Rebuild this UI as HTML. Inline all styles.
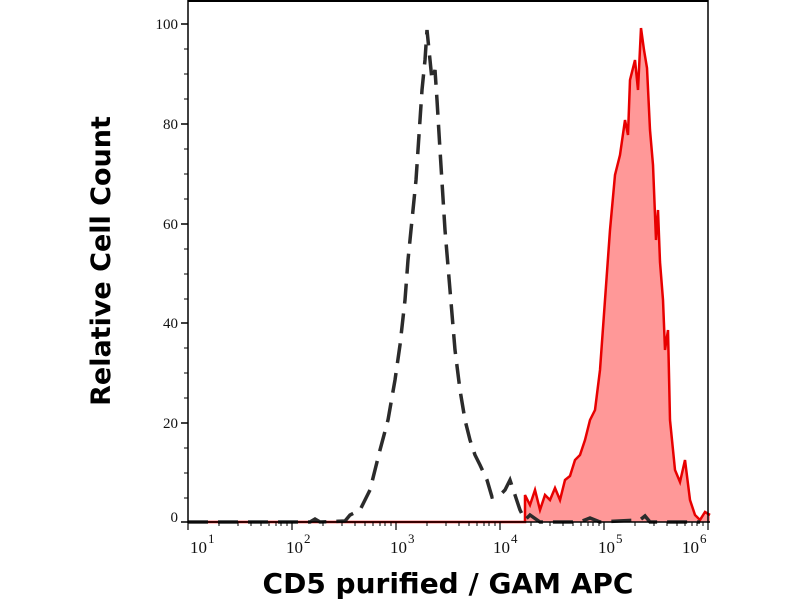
<!DOCTYPE html>
<html><head><meta charset="utf-8"><style>
body{margin:0;background:#fff;width:800px;height:600px;overflow:hidden}
svg text{font-family:"Liberation Serif",serif;fill:#111}
</style></head><body>
<svg width="800" height="600" viewBox="0 0 800 600">
<g font-size="15" text-anchor="end">
<text x="178" y="29">100</text><text x="178" y="129">80</text><text x="178" y="229">60</text>
<text x="178" y="328">40</text><text x="178" y="428">20</text><text x="178" y="522">0</text>
</g>
<g stroke="#000" stroke-width="1.5">
<line x1="181" y1="24" x2="188" y2="24"/><line x1="181" y1="124" x2="188" y2="124"/><line x1="181" y1="224" x2="188" y2="224"/>
<line x1="181" y1="323" x2="188" y2="323"/><line x1="181" y1="423" x2="188" y2="423"/><line x1="181" y1="522" x2="188" y2="522"/>
</g>
<g stroke="#000" stroke-width="1">
<line x1="188" y1="49" x2="184" y2="49"/><line x1="188" y1="74" x2="184" y2="74"/><line x1="188" y1="99" x2="184" y2="99"/>
<line x1="188" y1="149" x2="184" y2="149"/><line x1="188" y1="174" x2="184" y2="174"/><line x1="188" y1="199" x2="184" y2="199"/>
<line x1="188" y1="249" x2="184" y2="249"/><line x1="188" y1="274" x2="184" y2="274"/><line x1="188" y1="299" x2="184" y2="299"/>
<line x1="188" y1="348" x2="184" y2="348"/><line x1="188" y1="373" x2="184" y2="373"/><line x1="188" y1="398" x2="184" y2="398"/>
<line x1="188" y1="448" x2="184" y2="448"/><line x1="188" y1="473" x2="184" y2="473"/><line x1="188" y1="498" x2="184" y2="498"/>
</g>
<path d="M188,522 L525,522 525,495 530,505 535,490 540,510 545,495 550,500 555,488 560,500 565,480 570,476 575,460 580,455 585,440 590,420 595,410 600,370 605,300 610,230 615,175 620,155 625,120 628,135 630,80 635,60 638,90 641,28 644,50 647,68 650,130 653,165 656,240 658,210 660,262 663,300 665,350 668,330 670,420 675,470 680,482 685,460 690,500 695,515 700,520 705,512 710,515 710,522 Z" fill="#ff9898"/>
<polyline fill="none" stroke="#e80000" stroke-width="2.5" points="188,522 525,522 525,495 530,505 535,490 540,510 545,495 550,500 555,488 560,500 565,480 570,476 575,460 580,455 585,440 590,420 595,410 600,370 605,300 610,230 615,175 620,155 625,120 628,135 630,80 635,60 638,90 641,28 644,50 647,68 650,130 653,165 656,240 658,210 660,262 663,300 665,350 668,330 670,420 675,470 680,482 685,460 690,500 695,515 700,520 705,512 710,515"/>
<polyline fill="none" stroke="#2b2b2b" stroke-width="3.5" stroke-dasharray="20,10" points="188,522 310,522 315,519 320,522 345,521 350,515 360,510 365,500 370,490 375,470 380,450 388,420 395,380 400,345 405,300 408,260 412,220 416,180 420,120 422,90 425,60 427,30 430,60 432,80 435,70 437,100 440,150 445,230 450,290 455,350 460,390 465,420 470,440 475,455 480,465 487,480 492,497 500,495 505,490 510,480 515,495 520,510 525,520 530,515 540,522 580,522 590,518 600,522 640,520 645,516 650,522 700,522"/>
<g stroke="#000" fill="none">
<line x1="188" y1="1" x2="708" y2="1" stroke-width="2"/>
<line x1="708" y1="0" x2="708" y2="523" stroke-width="1.5"/>
<line x1="188" y1="0" x2="188" y2="523" stroke-width="1.5"/>
<line x1="188" y1="522" x2="710" y2="522" stroke-width="1.5"/>
</g>
<g stroke="#000" stroke-width="1.2">
<line x1="188" y1="522" x2="188" y2="530"/><line x1="292" y1="522" x2="292" y2="530"/><line x1="396" y1="522" x2="396" y2="530"/>
<line x1="500" y1="522" x2="500" y2="530"/><line x1="604" y1="522" x2="604" y2="530"/><line x1="708" y1="522" x2="708" y2="530"/>
</g>
<g stroke="#000" stroke-width="1">
<path d="M219,522v4M238,522v4M251,522v4M261,522v4M269,522v4M276,522v4M281,522v4M287,522v4
M323,522v4M342,522v4M355,522v4M365,522v4M373,522v4M380,522v4M385,522v4M391,522v4
M427,522v4M446,522v4M459,522v4M469,522v4M477,522v4M484,522v4M489,522v4M495,522v4
M531,522v4M550,522v4M563,522v4M573,522v4M581,522v4M588,522v4M593,522v4M599,522v4
M635,522v4M654,522v4M667,522v4M677,522v4M685,522v4M692,522v4M697,522v4M703,522v4"/>
</g>
<g font-size="17">
<text x="190" y="553">10</text><text x="208" y="543" font-size="13">1</text>
<text x="286" y="553">10</text><text x="304" y="543" font-size="13">2</text>
<text x="390" y="553">10</text><text x="408" y="543" font-size="13">3</text>
<text x="493" y="553">10</text><text x="511" y="543" font-size="13">4</text>
<text x="598" y="553">10</text><text x="616" y="543" font-size="13">5</text>
<text x="682" y="553">10</text><text x="700" y="543" font-size="13">6</text>
</g>
<text x="448" y="593" text-anchor="middle" style="font-family:'DejaVu Sans',sans-serif;font-weight:bold;font-size:28px;fill:#000">CD5 purified / GAM APC</text>
<text transform="translate(110,261) rotate(-90)" text-anchor="middle" style="font-family:'DejaVu Sans',sans-serif;font-weight:bold;font-size:27px;fill:#000">Relative Cell Count</text>
</svg>
</body></html>
